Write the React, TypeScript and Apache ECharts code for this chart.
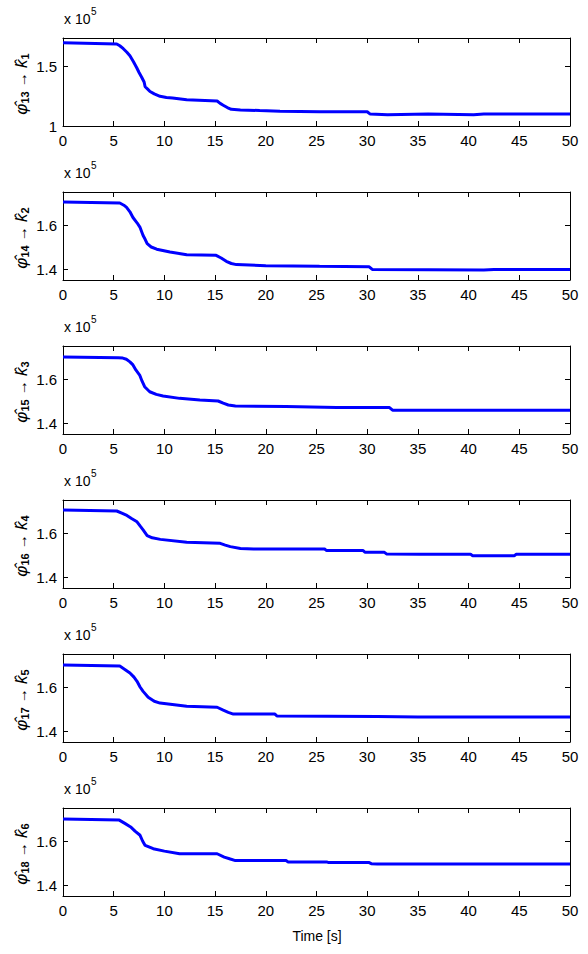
import React, { useEffect, useRef } from "react";
import * as echarts from "echarts";

// ---------- data ----------
const xTickValues = [0, 5, 10, 15, 20, 25, 30, 35, 40, 45, 50];

const t1 = [0, 5.3, 5.6, 5.95, 6.3, 6.6, 6.95, 7.27, 7.5, 7.76, 8.0, 8.1, 8.35, 8.58, 9.0, 9.57, 10.2, 10.8, 12.2, 15.2, 15.5, 15.8, 16.2, 16.6, 17.5, 19.4, 21.4, 25.3, 30.0, 30.3, 32, 36, 40.5, 41.5, 50];
const v1 = [1.70, 1.69, 1.675, 1.65, 1.62, 1.59, 1.54, 1.49, 1.45, 1.41, 1.37, 1.33, 1.31, 1.29, 1.27, 1.25, 1.24, 1.235, 1.22, 1.21, 1.19, 1.175, 1.155, 1.14, 1.135, 1.13, 1.125, 1.12, 1.12, 1.1, 1.095, 1.1, 1.095, 1.1, 1.1];

const t2 = [0, 5.6, 6.0, 6.27, 6.6, 6.9, 7.3, 7.6, 7.9, 8.1, 8.3, 8.7, 9.24, 10.55, 12.2, 15.1, 15.6, 16.1, 16.6, 17.1, 20, 25.3, 30.2, 30.5, 41.5, 42.5, 50];
const v2 = [1.705, 1.7, 1.69, 1.68, 1.66, 1.634, 1.61, 1.589, 1.552, 1.535, 1.515, 1.5, 1.49, 1.477, 1.465, 1.462, 1.45, 1.435, 1.425, 1.42, 1.415, 1.412, 1.41, 1.398, 1.395, 1.398, 1.398];

const t3 = [0, 5.45, 5.9, 6.25, 6.6, 6.9, 7.2, 7.56, 7.8, 8.05, 8.55, 9.2, 9.87, 11.5, 13.5, 15.3, 15.8, 16.3, 17, 22, 27, 32.2, 32.5, 50];
const v3 = [1.70, 1.697, 1.695, 1.69, 1.678, 1.664, 1.64, 1.618, 1.59, 1.565, 1.542, 1.53, 1.523, 1.512, 1.505, 1.5, 1.49, 1.482, 1.477, 1.475, 1.47, 1.47, 1.458, 1.458];

const t4 = [0, 5.3, 5.8, 6.3, 6.8, 7.3, 7.6, 7.9, 8.3, 8.8, 9.6, 12.2, 15.5, 16.0, 16.5, 17.5, 18.8, 25.8, 26, 29.6, 29.8, 31.7, 31.9, 35.2, 40.2, 40.4, 44.5, 44.7, 50];
const v4 = [1.705, 1.7, 1.69, 1.68, 1.665, 1.651, 1.632, 1.614, 1.588, 1.578, 1.571, 1.558, 1.553, 1.545, 1.538, 1.53, 1.527, 1.527, 1.52, 1.52, 1.512, 1.512, 1.505, 1.503, 1.503, 1.497, 1.497, 1.503, 1.503];

const t5 = [0, 5.6, 6.1, 6.6, 7.0, 7.3, 7.6, 7.9, 8.4, 9.0, 9.57, 12.2, 15.2, 15.8, 16.3, 16.8, 20.9, 21.1, 31, 35, 50];
const v5 = [1.70, 1.695, 1.68, 1.664, 1.645, 1.626, 1.6, 1.58, 1.553, 1.535, 1.527, 1.512, 1.508, 1.495, 1.485, 1.477, 1.477, 1.468, 1.466, 1.464, 1.464];

const t6 = [0, 5.55, 6.1, 6.67, 7.1, 7.6, 7.85, 8.1, 8.9, 10, 11.5, 15.2, 15.9, 16.5, 17, 22.0, 22.2, 26.0, 26.2, 30.2, 30.4, 31, 50];
const v6 = [1.70, 1.695, 1.68, 1.664, 1.645, 1.626, 1.6, 1.58, 1.565, 1.554, 1.542, 1.542, 1.527, 1.518, 1.511, 1.511, 1.505, 1.505, 1.502, 1.502, 1.497, 1.495, 1.495];

const times = [t1, t2, t3, t4, t5, t6];
const values = [v1, v2, v3, v4, v5, v6];
const phiIndex = ["13", "14", "15", "16", "17", "18"];
const kIndex = ["1", "2", "3", "4", "5", "6"];
const yMins = [1, 1.35, 1.35, 1.35, 1.35, 1.35];
const yMaxs = [1.74, 1.75, 1.75, 1.75, 1.75, 1.75];
const yTicks = [[1, 1.5], [1.4, 1.6], [1.4, 1.6], [1.4, 1.6], [1.4, 1.6], [1.4, 1.6]];
const exponentLabel = "x 10";
const exponentPower = "5";
const xAxisTitle = "Time [s]";

const FONT = "'Liberation Sans', Arial, sans-serif";

export default function App() {
  const ref = useRef<HTMLDivElement>(null);
  useEffect(() => {
    document.body.style.margin = "0";
    if (!ref.current) return;
    const chart = echarts.init(ref.current, null, { renderer: "svg" });
    const left = 63;
    const width = 507;
    const height = 88;
    const tops = times.map((_, i) => 38 + 154 * i);

    const grids: any[] = [];
    const xAxes: any[] = [];
    const yAxes: any[] = [];
    const series: any[] = [];
    const graphics: any[] = [];

    times.forEach((tArr, i) => {
      grids.push({ left, top: tops[i], width, height, containLabel: false });
      const baseX = {
        type: "value",
        gridIndex: i,
        min: 0,
        max: 50,
        interval: 5,
        axisLine: { show: true, onZero: false, lineStyle: { color: "#000", width: 1 } },
        axisTick: { show: true, inside: true, length: 5, lineStyle: { color: "#000" } },
        splitLine: { show: false },
      };
      xAxes.push({
        ...baseX,
        position: "bottom",
        axisLabel: { show: true, color: "#000", fontSize: 15, fontFamily: FONT, margin: 7, customValues: xTickValues },
      });
      xAxes.push({ ...baseX, position: "top", axisLabel: { show: false } });
      const baseY = {
        type: "value",
        gridIndex: i,
        min: yMins[i],
        max: yMaxs[i],
        axisLine: { show: true, onZero: false, lineStyle: { color: "#000", width: 1 } },
        axisTick: { show: true, inside: true, length: 5, lineStyle: { color: "#000" }, customValues: yTicks[i] },
        splitLine: { show: false },
      };
      yAxes.push({
        ...baseY,
        position: "left",
        axisLabel: {
          show: true,
          color: "#000",
          fontSize: 15,
          fontFamily: FONT,
          margin: 6,
          customValues: yTicks[i],
          formatter: (v: number) => String(Math.round(v * 10) / 10),
        },
      });
      yAxes.push({ ...baseY, position: "right", axisLabel: { show: false } });

      series.push({
        type: "line",
        xAxisIndex: i * 2,
        yAxisIndex: i * 2,
        data: tArr.map((t, j) => [t, values[i][j]]),
        showSymbol: false,
        lineStyle: { color: "#0000ff", width: 3 },
      });

      graphics.push({
        type: "text",
        x: 64,
        y: tops[i] - 19,
        style: { text: exponentLabel, font: `14px ${FONT}`, fill: "#000", verticalAlign: "middle", align: "left" },
      });
      graphics.push({
        type: "text",
        x: 91,
        y: tops[i] - 27,
        style: { text: exponentPower, font: `10px ${FONT}`, fill: "#000", verticalAlign: "middle", align: "left" },
      });
      graphics.push({
        type: "text",
        x: 21,
        y: tops[i] + height / 2 + 2,
        rotation: Math.PI / 2,
        style: {
          text: `{p|φ̂}{s|${phiIndex[i]}}{a| → }{p|k̂}{s|${kIndex[i]}}`,
          align: "center",
          verticalAlign: "middle",
          fill: "#000",
          rich: {
            p: { fontSize: 17, fontFamily: FONT, fontStyle: "italic", fill: "#000" },
            s: { fontSize: 11, fontFamily: FONT, fontWeight: "bold", fill: "#000", padding: [7, 0, 0, 0] },
            a: { fontSize: 15, fontFamily: FONT, fontWeight: "bold", fill: "#000" },
          },
        },
      });
    });

    graphics.push({
      type: "text",
      x: 317,
      y: 936,
      style: { text: xAxisTitle, font: `14px ${FONT}`, fill: "#000", align: "center", verticalAlign: "middle" },
    });

    chart.setOption({
      animation: false,
      backgroundColor: "#fff",
      grid: grids,
      xAxis: xAxes,
      yAxis: yAxes,
      series,
      graphic: graphics,
    });
    return () => chart.dispose();
  }, []);
  return <div ref={ref} style={{ width: 588, height: 954 }} />;
}
